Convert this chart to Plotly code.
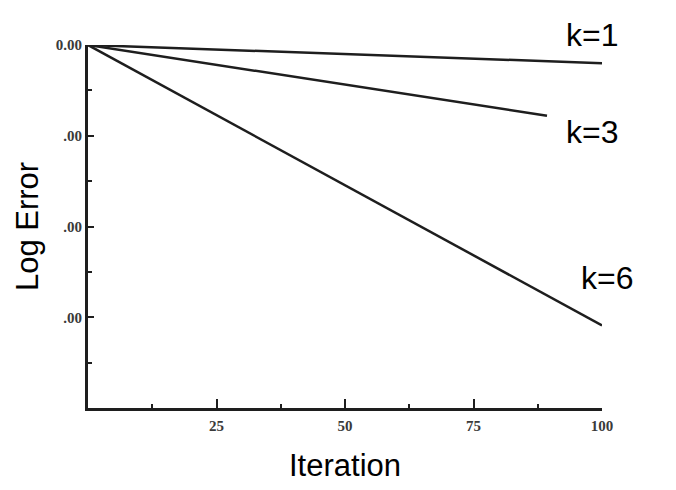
import plotly.graph_objects as go

# iteration vs log error
iters_k1 = [0, 100]
err_k1 = [0.0, -0.2]
iters_k3 = [0, 89.3]
err_k3 = [0.0, -0.78]
iters_k6 = [0, 100]
err_k6 = [0.0, -3.09]

x_ticks = [25, 50, 75, 100]
x_minor = [12.5, 37.5, 62.5, 87.5]
y_ticks = [0, -1, -2, -3]
y_labels = ["0.00", ".00", ".00", ".00"]
y_minor = [-0.5, -1.5, -2.5, -3.5]

line_style = dict(color="#1e1e1e", width=2.5)

fig = go.Figure()
fig.add_trace(go.Scatter(x=iters_k1, y=err_k1, mode="lines", line=line_style, name="k=1"))
fig.add_trace(go.Scatter(x=iters_k3, y=err_k3, mode="lines", line=line_style, name="k=3"))
fig.add_trace(go.Scatter(x=iters_k6, y=err_k6, mode="lines", line=line_style, name="k=6"))

# curve labels sit partly outside the plot box, so place them in paper coords
lab_font = dict(family="Liberation Sans, Arial", size=32, color="black")
for lx, ly, txt in [(0.98, 1.027, "k=1"), (0.98, 0.76, "k=3"), (1.01, 0.358, "k=6")]:
    fig.add_annotation(x=lx, y=ly, xref="paper", yref="paper", text=txt,
                       xanchor="center", yanchor="middle", showarrow=False, font=lab_font)

tick_font = dict(family="Liberation Serif", size=15, color="#3a3a3a", weight="bold")

fig.update_layout(
    width=676, height=490,
    margin=dict(l=80, r=82, t=37, b=90),
    paper_bgcolor="white", plot_bgcolor="white",
    showlegend=False,
    xaxis=dict(
        range=[0, 100], showgrid=False, zeroline=False,
        showline=True, linecolor="#1e1e1e", linewidth=3,
        tickvals=x_ticks, ticks="inside", ticklen=9, tickwidth=2, tickcolor="#1e1e1e",
        minor=dict(tickvals=x_minor, ticks="inside", ticklen=4, tickwidth=2, tickcolor="#1e1e1e"),
        tickfont=tick_font, ticklabelstandoff=2,
        title=dict(text="Iteration", font=dict(family="Liberation Sans, Arial", size=31, color="black"), standoff=22),
    ),
    yaxis=dict(
        range=[-4, 0], showgrid=False, zeroline=False,
        showline=True, linecolor="#1e1e1e", linewidth=3,
        tickvals=y_ticks, ticktext=y_labels, ticks="inside", ticklen=6, tickwidth=2, tickcolor="#1e1e1e",
        minor=dict(tickvals=y_minor, ticks="inside", ticklen=4, tickwidth=2, tickcolor="#1e1e1e"),
        tickfont=tick_font,
        title=dict(text="Log Error", font=dict(family="Liberation Sans, Arial", size=31, color="black"), standoff=8),
    ),
)

fig.write_html("out.html")
